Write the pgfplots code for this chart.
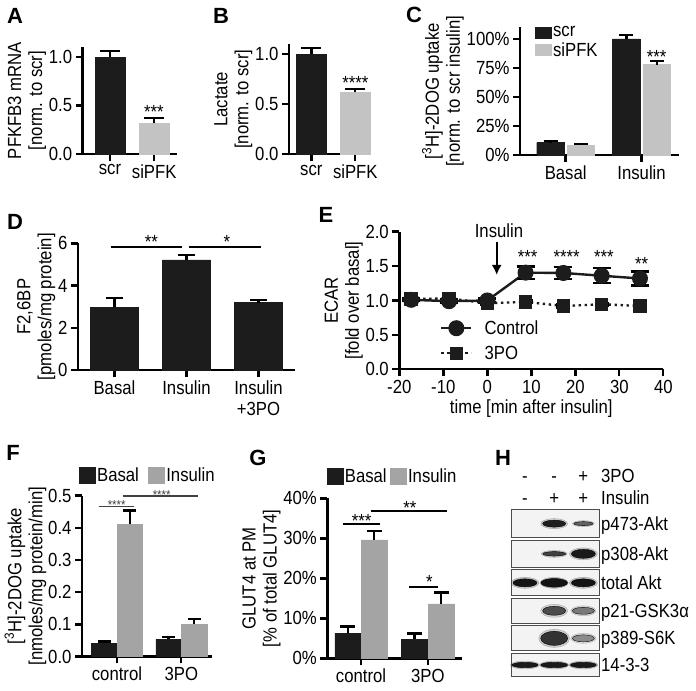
\documentclass[border=0pt]{standalone}
\usepackage{fontspec}
\setmainfont{Liberation Sans}[FakeStretch=0.88]
\newfontfamily\lf{Liberation Sans}
\usepackage{pgfplots}
\pgfplotsset{compat=1.18}
\usetikzlibrary{arrows.meta}

\definecolor{bk}{HTML}{1C1C1C}
\definecolor{lg}{HTML}{C3C3C3}
\definecolor{mg}{HTML}{A4A4A4}
\definecolor{boxf}{HTML}{F3F3F3}

\newcommand{\fs}{\fontsize{19bp}{21bp}\selectfont}
\newcommand{\fss}{\fontsize{13bp}{14bp}\selectfont}
\newcommand{\pl}{\lf\fontsize{22bp}{24bp}\selectfont\bfseries}

\pgfplotsset{
  gp/.style={
    scale only axis, anchor=south west,
    axis lines=left,
    axis line style={-, line width=2.4bp, black},
    tick style={line width=2.4bp, black},
    tick align=outside,
    major tick length=7bp,
    clip=false,
    ymin=0,
    tick label style={font=\fs},
    label style={font=\fs},
    ylabel style={align=center},
    ylabel shift=-4bp,
    xticklabel style={align=center},
  },
  eb/.style={error bars/.cd, y dir=plus, y explicit,
    error bar style={line width=2.4bp, black},
    error mark options={rotate=90, line width=2.4bp, black, mark size=#1}},
  ebb/.style={error bars/.cd, y dir=both, y explicit,
    error bar style={line width=2.4bp, black, solid},
    error mark options={rotate=90, line width=2.4bp, black, solid, mark size=#1}},
  sqleg/.style={legend image code/.code={\fill[##1] (0bp,-#1) rectangle (16bp,#1);}},
}

\newcommand{\band}[5]{\addplot[only marks, mark=*, mark size=#4bp, mark options={xscale=#3, draw=none, fill=black!#5}] coordinates {(#1,#2)};}
\newcommand{\halo}[5]{\addplot[only marks, mark=*, mark size=#4bp, mark options={xscale=#3, draw=none, fill=black!#5, opacity=0.25}] coordinates {(#1,#2)};}

\begin{document}
\begin{tikzpicture}[font=\fs]
\useasboundingbox (0,0) rectangle (696bp,691bp);

% ---------------- A ----------------
\begin{axis}[gp, at={(82.7bp,537bp)}, width=94bp, height=107bp,
  xmin=0.382, xmax=2.509, ymax=1.1,
  xtick={1,2}, xticklabels={scr,siPFK},
  ytick={0,0.5,1}, yticklabels={0.0,0.5,1.0},
  ylabel={PFKFB3 mRNA\\{}[norm. to scr]},
  ybar, bar width=0.68]
\addplot[fill=bk, draw=bk, bar shift=0, eb=10bp] coordinates {(1,1.0) +- (0,0.06)};
\addplot[fill=lg, draw=lg, bar shift=0, eb=10bp] coordinates {(2,0.315) +- (0,0.055)};
\end{axis}

% ---------------- B ----------------
\begin{axis}[gp, at={(289bp,536.7bp)}, width=82bp, height=110bp,
  xmin=0.493, xmax=2.357, ymax=1.1,
  xtick={1,2}, xticklabels={scr,siPFK},
  ytick={0,0.5,1}, yticklabels={0.0,0.5,1.0},
  ylabel={Lactate\\{}[norm. to scr]},
  ybar, bar width=0.67]
\addplot[fill=bk, draw=bk, bar shift=0, eb=10bp] coordinates {(1,1.0) +- (0,0.065)};
\addplot[fill=lg, draw=lg, bar shift=0, eb=10bp] coordinates {(2,0.62) +- (0,0.03)};
\end{axis}

% ---------------- C ----------------
\begin{axis}[gp, at={(520bp,536bp)}, width=159bp, height=127.6bp,
  xmin=0.398, xmax=2.493, ymax=110,
  xtick={1,2}, xticklabels={Basal,Insulin},
  ytick={0,25,50,75,100}, yticklabels={0\%,25\%,50\%,75\%,100\%},
  ylabel={[\textsuperscript{3}H]-2DOG uptake\\{}[norm. to scr insulin]},
  ybar, bar width=0.363,
  sqleg=5.5bp,
  legend style={at={(0.094,1.02)}, anchor=north west, draw=none, fill=none, inner sep=0pt, row sep=1bp, font=\fs,
    nodes={inner sep=1.5bp}},
  legend cell align=left]
\addplot[fill=bk, draw=bk, bar shift=-0.2, eb=7bp] coordinates {(1,10.6) +- (0,1.4) (2,100) +- (0,3.5)};
\addplot[fill=lg, draw=lg, bar shift=0.2, eb=7bp] coordinates {(1,8.6) +- (0,1.1) (2,78) +- (0,3)};
\legend{scr,siPFK}
\end{axis}

% ---------------- D ----------------
\begin{axis}[gp, at={(78bp,321bp)}, width=217bp, height=126.7bp,
  xmin=0.493, xmax=3.507, ymax=6,
  xtick={1,2,3}, xticklabels={Basal,Insulin,{Insulin\\+3PO}},
  ytick={0,2,4,6}, yticklabels={0,2,4,6},
  ylabel={F2,6BP\\{}[pmoles/mg protein]},
  ybar, bar width=0.663]
\addplot[fill=bk, draw=bk, bar shift=0, eb=8.5bp] coordinates {(1,2.97) +- (0,0.43) (2,5.21) +- (0,0.25) (3,3.19) +- (0,0.13)};
\end{axis}

% ---------------- E ----------------
\begin{axis}[gp, at={(399.3bp,321.7bp)}, width=264bp, height=137.6bp,
  xmin=-20, xmax=40, ymax=2,
  xtick={-20,-10,0,10,20,30,40}, xticklabels={-20,-10,0,10,20,30,40},
  ytick={0,0.5,1,1.5,2}, yticklabels={0.0,0.5,1.0,1.5,2.0},
  xlabel={time [min after insulin]},
  ylabel={ECAR\\{}[fold over basal]},
  legend style={at={(0.154,0.37)}, anchor=north west, draw=none, fill=none, inner sep=0pt, row sep=6bp, font=\fs,
    /tikz/every odd column/.append style={column sep=10bp}},
  legend cell align=left,
  legend image code/.code={\draw[mark repeat=2, mark phase=2, #1] plot coordinates {(0bp,0bp) (15bp,0bp) (30bp,0bp)};}]
\addplot[bk, line width=2.4bp, mark=*, mark size=6.8bp, mark options={fill=bk}, ebb=9bp] coordinates {
  (-17.3,1.01) +- (0,0.02) (-8.7,0.99) +- (0,0.03) (0,1.0) +- (0,0.03)
  (8.7,1.405) +- (0,0.09) (17.3,1.40) +- (0,0.09) (26,1.36) +- (0,0.11) (34.7,1.32) +- (0,0.10)};
\addplot[bk, line width=2.4bp, dash pattern=on 2.4bp off 3.6bp, mark=square*, mark size=5.5bp, mark options={solid, fill=bk}, ebb=7bp] coordinates {
  (-17.3,1.02) +- (0,0.02) (-8.7,1.03) +- (0,0.02) (0,0.96) +- (0,0.02)
  (8.7,0.98) +- (0,0.02) (17.3,0.92) +- (0,0.02) (26,0.945) +- (0,0.02) (34.7,0.92) +- (0,0.02)};
\legend{Control,3PO}
\end{axis}

% ---------------- F ----------------
\begin{axis}[gp, at={(82bp,34.5bp)}, width=129.7bp, height=161bp,
  xmin=0.456, xmax=2.473, ymax=0.5,
  xtick={1,2}, xticklabels={control,3PO},
  ytick={0,0.1,0.2,0.3,0.4,0.5}, yticklabels={0.0,0.1,0.2,0.3,0.4,0.5},
  ylabel={[\textsuperscript{3}H]-2DOG uptake\\{}[nmoles/mg protein/min]},
  ylabel shift=-5bp,
  ybar, bar width=0.393,
  sqleg=8bp,
  legend columns=2,
  legend style={at={(-0.023,1.127)}, anchor=west, draw=none, fill=none, inner sep=0pt, font=\fs,
    nodes={inner sep=1.5bp},
    /tikz/every even column/.append style={column sep=8bp}},
  legend cell align=left]
\addplot[fill=bk, draw=bk, bar shift=-0.2, eb=6.5bp] coordinates {(1,0.041) +- (0,0.005) (2,0.054) +- (0,0.007)};
\addplot[fill=mg, draw=mg, bar shift=0.2, eb=6.5bp] coordinates {(1,0.41) +- (0,0.044) (2,0.10) +- (0,0.016)};
\legend{Basal,Insulin}
\end{axis}

% ---------------- G ----------------
\begin{axis}[gp, at={(327.3bp,32.7bp)}, width=134.4bp, height=160bp,
  xmin=0.4955, xmax=2.507, ymax=40,
  xtick={1,2}, xticklabels={control,3PO},
  ytick={0,10,20,30,40}, yticklabels={0\%,10\%,20\%,30\%,40\%},
  ylabel={GLUT4 at PM\\{}[\% of total GLUT4]},
  ybar, bar width=0.39,
  sqleg=8bp,
  legend columns=2,
  legend style={at={(-0.004,1.136)}, anchor=west, draw=none, fill=none, inner sep=0pt, font=\fs,
    nodes={inner sep=1.5bp},
    /tikz/every even column/.append style={column sep=2bp}},
  legend cell align=left]
\addplot[fill=bk, draw=bk, bar shift=-0.198, eb=7.5bp] coordinates {(1,6.25) +- (0,1.65) (2,4.8) +- (0,1.45)};
\addplot[fill=mg, draw=mg, bar shift=0.198, eb=7.5bp] coordinates {(1,29.6) +- (0,2.3) (2,13.6) +- (0,2.9)};
\legend{Basal,Insulin}
\end{axis}

% ---------------- H (blot) ----------------
\begin{axis}[scale only axis, anchor=south west, at={(511.7bp,14.3bp)}, width=87.6bp, height=166.7bp,
  xmin=0.545, xmax=3.545, ymin=0, ymax=166.7, hide axis, clip=false]
\draw[black!70, line width=1bp, fill=boxf] (axis cs:0.545,139.4) rectangle (axis cs:3.545,166.7);
\draw[black!70, line width=1bp, fill=boxf] (axis cs:0.545,109.4) rectangle (axis cs:3.545,136);
\draw[black!70, line width=1bp, fill=boxf] (axis cs:0.545,81) rectangle (axis cs:3.545,106.7);
\draw[black!70, line width=1bp, fill=boxf] (axis cs:0.545,53.4) rectangle (axis cs:3.545,78.4);
\draw[black!70, line width=1bp, fill=boxf] (axis cs:0.545,25.7) rectangle (axis cs:3.545,51);
\draw[black!70, line width=1bp, fill=boxf] (axis cs:0.545,0) rectangle (axis cs:3.545,23.4);
% row 1 p473-Akt
\halo{2}{153.05}{2.7}{5}{60}  \band{2}{153.05}{3.29}{3.5}{88}
\halo{3}{153.05}{3.67}{3}{40} \band{3}{153.05}{4.75}{2}{62}
% row 2 p308-Akt
\halo{2}{122.85}{3.71}{3.5}{50} \band{2}{122.85}{5.1}{2.25}{75}
\halo{3}{122.85}{2.33}{6}{70}   \band{3}{122.85}{2.67}{4.5}{90}
% row 3 total Akt
\halo{1}{93.85}{2.55}{5.5}{70} \band{1}{93.85}{3}{4}{92}
\halo{2}{93.85}{2.55}{5.5}{70} \band{2}{93.85}{3.1}{4.3}{92}
\halo{3}{93.85}{2.55}{5.5}{70} \band{3}{93.85}{3}{4}{92}
% row 4 p21-GSK3a
\halo{2}{65.9}{2.08}{6.5}{50} \band{2}{65.9}{2.56}{4.5}{70}
\halo{3}{65.9}{2.5}{5}{35}    \band{3}{65.9}{3.14}{3.5}{52}
% row 5 p389-S6K
\halo{2}{38.35}{1.72}{9}{60} \band{2}{38.35}{1.93}{7}{80}
\halo{3}{38.35}{2.5}{5}{30}  \band{3}{38.35}{3.14}{3.5}{45}
% row 6 14-3-3
\halo{1}{11.7}{3.63}{4}{70} \band{1}{11.7}{4.73}{2.75}{90}
\halo{2}{11.7}{3.63}{4}{70} \band{2}{11.7}{4.9}{2.75}{90}
\halo{3}{11.7}{3.63}{4}{70} \band{3}{11.7}{4.73}{2.75}{90}
\end{axis}

% ---------------- annotations (image pixel coordinates, y downward) ----------------
\begin{scope}[shift={(0,691bp)}, x=1bp, y=-1bp]
  % panel letters
  \node[font=\pl, anchor=base] at (15,24) {A};
  \node[font=\pl, anchor=base] at (221,24) {B};
  \node[font=\pl, anchor=base] at (414,23) {C};
  \node[font=\pl, anchor=base] at (15,229.6) {D};
  \node[font=\pl, anchor=base] at (326,223) {E};
  \node[font=\pl, anchor=base] at (13,461) {F};
  \node[font=\pl, anchor=base] at (258,466) {G};
  \node[font=\pl, anchor=base] at (503,466) {H};
  % stars A, B, C
  \node[anchor=base] at (154,119) {***};
  \node[anchor=base] at (355.3,90) {****};
  \node[anchor=base] at (656.7,64) {***};
  % D
  \draw[line width=2.4bp] (110.7,247.3) -- (181.7,247.3);
  \draw[line width=2.4bp] (189.3,247.3) -- (260.7,247.3);
  \node[anchor=base] at (151.5,248.7) {**};
  \node[anchor=base] at (227,248.7) {*};
  % E
  \node at (499,231) {Insulin};
  \draw[line width=2bp, -{Latex[length=10bp,width=10bp]}] (496.7,241.7) -- (496.7,275);
  \node[anchor=base] at (527.7,264) {***};
  \node[anchor=base] at (566.7,264) {****};
  \node[anchor=base] at (604,264) {***};
  \node[anchor=base] at (641.7,270.7) {**};
  % F
  \draw[line width=1.5bp, black!75] (98.5,506.3) -- (134,506.3);
  \draw[line width=1.5bp, black!75] (123.3,495.8) -- (198.3,495.8);
  \node[font=\fss, text=black!75, anchor=base] at (116.7,509.4) {****};
  \node[font=\fss, text=black!75, anchor=base] at (161.7,499.9) {****};
  % G
  \draw[line width=2bp] (342.7,524) -- (380,524);
  \draw[line width=2bp] (370.7,510.7) -- (446.7,510.7);
  \draw[line width=2bp] (409.3,586.7) -- (438.3,586.7);
  \node[anchor=base] at (361.7,528) {***};
  \node[anchor=base] at (410,514.7) {**};
  \node[anchor=base] at (429.3,589) {*};
  % H header and labels
  \node[anchor=base] at (525,482.8) {-};
  \node[anchor=base] at (554.2,482.8) {-};
  \node[anchor=base] at (583.3,482.8) {+};
  \node[anchor=base west, inner sep=0pt] at (601,482.8) {3PO};
  \node[anchor=base] at (525,504.4) {-};
  \node[anchor=base] at (554.2,504.4) {+};
  \node[anchor=base] at (583.3,504.4) {+};
  \node[anchor=base west, inner sep=0pt] at (601,504.4) {Insulin};
  \node[anchor=base west, inner sep=0pt] at (601,530.3) {p473-Akt};
  \node[anchor=base west, inner sep=0pt] at (601,560.5) {p308-Akt};
  \node[anchor=base west, inner sep=0pt] at (601,589.5) {total Akt};
  \node[anchor=base west, inner sep=0pt] at (601,617.4) {p21-GSK3α};
  \node[anchor=base west, inner sep=0pt] at (601,644.9) {p389-S6K};
  \node[anchor=base west, inner sep=0pt] at (601,671.6) {14-3-3};
\end{scope}
\end{tikzpicture}
\end{document}
